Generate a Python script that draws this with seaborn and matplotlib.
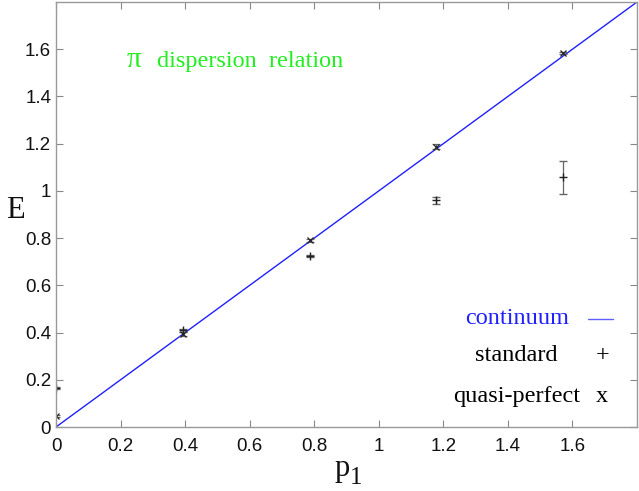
import matplotlib
matplotlib.use("Agg")
import matplotlib.pyplot as plt
import matplotlib.ticker as mticker
import seaborn as sns
import pandas as pd

# ---- data ----
p_values = [0.0, 0.3927, 0.7854, 1.1781, 1.5708]
E_standard = [0.166, 0.410, 0.723, 0.960, 1.058]
err_standard = [0.004, 0.006, 0.004, 0.015, 0.070]
E_quasi = [0.047, 0.393, 0.790, 1.188, 1.584]
err_quasi = [0.004, 0.008, 0.006, 0.010, 0.005]
continuum_p = [0.0, 1.8]
continuum_E = [0.0, 1.8]
x_ticks = [0, 0.2, 0.4, 0.6, 0.8, 1.0, 1.2, 1.4, 1.6]
y_ticks = [0, 0.2, 0.4, 0.6, 0.8, 1.0, 1.2, 1.4, 1.6]

sns.set_theme(style="ticks")
plt.rcParams['font.family'] = ['Liberation Sans', 'DejaVu Sans']

fig = plt.figure(figsize=(6.39, 4.91), dpi=100)
ax = fig.add_axes([56/639, 64/491, 581/639, 425/491])

cont = pd.DataFrame({"p": continuum_p, "E": continuum_E})
sns.lineplot(data=cont, x="p", y="E", ax=ax, color="#2020ff", linewidth=1.0)

ax.errorbar(p_values, E_standard, yerr=err_standard, fmt='+', color='#222222',
            ecolor='#666666', elinewidth=0.9, capsize=3, capthick=0.9,
            markersize=6, markeredgewidth=1.0)
ax.errorbar(p_values, E_quasi, yerr=err_quasi, fmt='x', color='#222222',
            ecolor='#666666', elinewidth=0.9, capsize=3, capthick=0.9,
            markersize=4.5, markeredgewidth=0.9)

ax.set_xlim(0, 1.8)
ax.set_ylim(0, 1.8)
ax.set_xticks(x_ticks)
ax.set_yticks(y_ticks)
fmt = mticker.FuncFormatter(lambda v, pos: f"{v:g}")
ax.xaxis.set_major_formatter(fmt)
ax.yaxis.set_major_formatter(fmt)
ax.tick_params(direction='in', length=5, width=0.8, color='#888888',
               labelsize=13.5, labelcolor='#111111', top=True, right=True)
ax.tick_params(axis='x', pad=8)
ax.tick_params(axis='y', pad=3.5)
for s in ax.spines.values():
    s.set_color('#999999')
    s.set_linewidth(1.0)

serif = 'Liberation Serif'
ax.set_xlabel("")
ax.set_ylabel("")
fig.text(15/639, 1 - 210/491, "E", family=serif, fontsize=22,
         ha='center', va='center', color='#111111')
fig.text(350/639, 1 - 476/491, "p", family=serif, fontsize=22,
         ha='right', va='baseline', color='#111111')
fig.text(350/639, 1 - 484/491, "1", family=serif, fontsize=18,
         ha='left', va='baseline', color='#111111')

ax.text((127-56)/581, 0.848, "π", transform=ax.transAxes,
        family=serif, fontsize=21, color='#22ee22', ha='left', va='baseline')
ax.text((157-56)/581, 0.848, "dispersion  relation", transform=ax.transAxes,
        family=serif, fontsize=17.5, color='#22ee22', ha='left', va='baseline')

ax.text((569-56)/581, 0.242, "continuum", transform=ax.transAxes,
        family=serif, fontsize=17.5, color='#2020ff', ha='right', va='baseline')
ax.plot([(588-56)/581, (613-56)/581], [(427-319)/425]*2, transform=ax.transAxes,
        color='#6060ff', linewidth=1.0)
ax.text((557-56)/581, 0.155, "standard", transform=ax.transAxes,
        family=serif, fontsize=17.5, color='black', ha='right', va='baseline')
ax.text((603-56)/581, 0.155, "+", transform=ax.transAxes,
        family=serif, fontsize=17.5, color='black', ha='center', va='baseline')
ax.text((580-56)/581, 0.059, "quasi-perfect", transform=ax.transAxes,
        family=serif, fontsize=17.5, color='black', ha='right', va='baseline')
ax.text((602-56)/581, 0.059, "x", transform=ax.transAxes,
        family=serif, fontsize=17.5, color='black', ha='center', va='baseline')

fig.savefig("out.png", dpi=100)
